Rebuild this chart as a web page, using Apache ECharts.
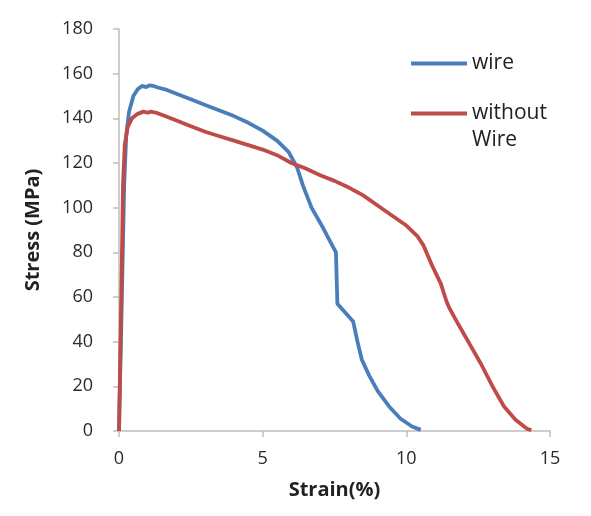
<!DOCTYPE html>
<html>
<head>
<meta charset="utf-8">
<script src="https://cdn.jsdelivr.net/npm/echarts@6/dist/echarts.min.js"></script>
<style>html,body{margin:0;padding:0;background:#fff}#c{width:591px;height:516px}</style>
</head>
<body>
<div id="c"></div>
<script>
const wireStrain = [0,0.1,0.18,0.25,0.35,0.5,0.65,0.8,0.95,1.05,1.2,1.35,1.6,2.0,2.5,3.0,3.5,4.0,4.5,5.0,5.5,5.9,6.2,6.4,6.7,7.1,7.55,7.6,8.15,8.3,8.45,8.7,9.0,9.4,9.8,10.2,10.5];
const wireStress = [0,60,110,132,143,150,153,154.5,154,154.8,154.5,153.8,153,151,148.5,146,143.5,141,138,134.5,130,125,118,110,100,91,80,57,49,40,32,25,18,11,5.5,2,0.5];
const plainStrain = [0,0.08,0.14,0.2,0.3,0.45,0.65,0.85,1.0,1.1,1.3,1.6,2.0,2.5,3.0,3.5,4.0,4.5,5.0,5.5,6.0,6.5,7.0,7.5,8.0,8.5,9.0,9.5,10.0,10.4,10.6,10.9,11.2,11.4,11.5,11.8,12.2,12.6,13.0,13.4,13.8,14.2,14.35];
const plainStress = [0,60,110,128,136,140,142,143,142.5,143,142.5,141,139,136.5,134,132,130,128,126,123.5,120,117.5,114.5,112,109,105.5,101,96.5,92,87,83,74,66,58,55,48,39,30,20,11,5,1,0.3];
const xTicks = [0,5,10,15];
const yTicks = [0,20,40,60,80,100,120,140,160,180];
const seriesNames = ['wire','without Wire'];

const zip = (a,b) => a.map((v,i)=>[v,b[i]]);
const font = '"Open Sans", sans-serif';
const chart = echarts.init(document.getElementById('c'), null, {renderer:'canvas'});
chart.setOption({
  animation:false,
  grid:{left:119,right:41,top:29,bottom:85},
  legend:[{
    data:[seriesNames[0]],
    left:411, top:53, orient:'vertical', padding:0,
    icon:'rect', itemWidth:56, itemHeight:4,
    textStyle:{fontFamily:font,fontSize:21,color:'#222'}
  },{
    data:[seriesNames[1]],
    left:411, top:76, orient:'vertical', padding:0,
    icon:'rect', itemWidth:56, itemHeight:4,
    formatter: n => { const p = n.split(' '); return '{t| }\n{t|' + p[0] + '}\n{t|' + p[1] + '}'; },
    textStyle:{fontFamily:font,fontSize:21,color:'#222',
      rich:{t:{fontFamily:font,fontSize:21,color:'#222',lineHeight:27}}}
  }],
  xAxis:{
    type:'value', min:xTicks[0], max:xTicks[xTicks.length-1], interval:5,
    name:'Strain(%)', nameLocation:'middle', nameGap:49,
    nameTextStyle:{fontFamily:font,fontSize:20,fontWeight:'bold',color:'#222'},
    axisLine:{lineStyle:{color:'#bdbdbd',width:1.5}},
    axisTick:{show:true,length:6,lineStyle:{color:'#bdbdbd',width:1.5}},
    axisLabel:{margin:19,fontFamily:font,fontSize:18,color:'#2a2a2a'},
    splitLine:{show:false}
  },
  yAxis:{
    type:'value', min:yTicks[0], max:yTicks[yTicks.length-1], interval:20,
    name:'Stress (MPa)', nameLocation:'middle', nameGap:76,
    nameTextStyle:{fontFamily:font,fontSize:20,fontWeight:'bold',color:'#222'},
    axisLine:{show:true,lineStyle:{color:'#bdbdbd',width:1.5}},
    axisTick:{show:true,length:6,lineStyle:{color:'#bdbdbd',width:1.5}},
    axisLabel:{margin:26,fontFamily:font,fontSize:18,color:'#2a2a2a'},
    splitLine:{show:false}
  },
  series:[{
    name:seriesNames[0], type:'line', symbol:'none', smooth:false,
    data:zip(wireStrain,wireStress),
    lineStyle:{color:'#4a7ebb',width:3.8}, itemStyle:{color:'#4a7ebb'}
  },{
    name:seriesNames[1], type:'line', symbol:'none', smooth:false,
    data:zip(plainStrain,plainStress),
    lineStyle:{color:'#be4b48',width:3.8}, itemStyle:{color:'#be4b48'}
  }]
});
</script>
</body>
</html>
